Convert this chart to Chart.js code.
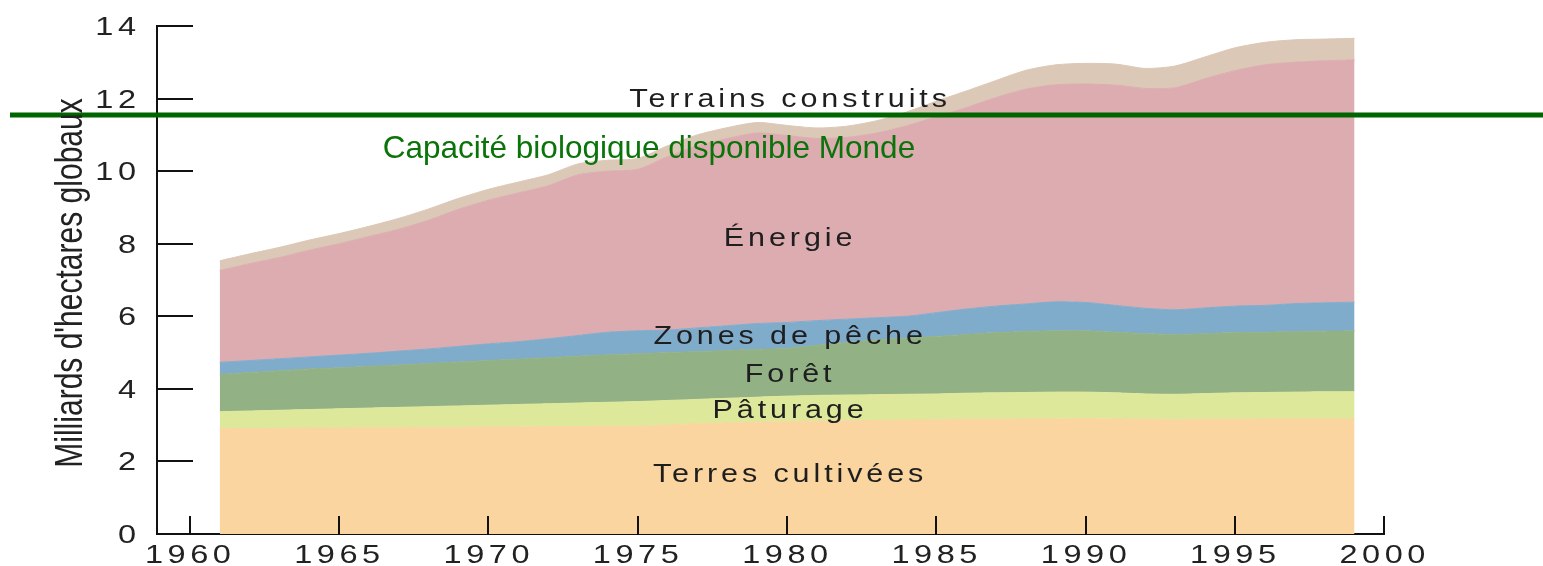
<!DOCTYPE html>
<html>
<head>
<meta charset="utf-8">
<script src="https://cdn.jsdelivr.net/npm/chart.js@4.4.1/dist/chart.umd.min.js"></script>
<style>
html,body{margin:0;padding:0;background:#fff;overflow:hidden}
#wrap{width:1543px;height:566px;position:relative}
</style>
</head>
<body>
<div id="wrap"><canvas id="c" width="1543" height="566"></canvas></div>
<script>
// ---- DATA (milliards d'hectares globaux) ----
const years = [1961,1962,1963,1964,1965,1966,1967,1968,1969,1970,
               1971,1972,1973,1974,1975,1976,1977,1978,1979,1980,
               1981,1982,1983,1984,1985,1986,1987,1988,1989,1990,
               1991,1992,1993,1994,1995,1996,1997,1998,1999];

const terresCultivees = [2.90,2.91,2.91,2.92,2.92,2.93,2.93,2.94,2.94,2.95,
                         2.95,2.96,2.96,2.97,2.97,3.00,3.04,3.06,3.08,3.10,
                         3.11,3.12,3.13,3.14,3.15,3.16,3.16,3.17,3.17,3.18,
                         3.17,3.16,3.15,3.16,3.16,3.17,3.17,3.17,3.17];

const paturage = [0.47,0.48,0.50,0.51,0.53,0.54,0.56,0.57,0.59,0.60,
                  0.62,0.63,0.65,0.66,0.68,0.68,0.67,0.68,0.69,0.70,
                  0.71,0.71,0.71,0.71,0.71,0.72,0.73,0.73,0.74,0.73,
                  0.72,0.70,0.70,0.71,0.73,0.73,0.74,0.75,0.75];

const foret = [1.03,1.06,1.09,1.12,1.13,1.15,1.17,1.19,1.21,1.23,
               1.25,1.27,1.29,1.31,1.32,1.32,1.32,1.32,1.32,1.32,
               1.38,1.45,1.51,1.55,1.59,1.62,1.66,1.68,1.69,1.69,
               1.67,1.66,1.65,1.65,1.66,1.66,1.67,1.67,1.68];

const zonesDePeche = [0.33,0.33,0.33,0.33,0.35,0.36,0.38,0.40,0.43,0.46,
                      0.48,0.52,0.57,0.62,0.63,0.62,0.65,0.68,0.71,0.71,
                      0.68,0.64,0.61,0.60,0.65,0.70,0.73,0.76,0.80,0.78,
                      0.74,0.70,0.68,0.71,0.73,0.74,0.77,0.78,0.79];

const energie = [2.53,2.67,2.79,2.94,3.07,3.22,3.36,3.55,3.78,3.96,
                 4.10,4.22,4.43,4.44,4.45,4.78,5.02,5.16,5.25,5.15,
                 5.02,5.01,5.09,5.25,5.40,5.55,5.75,5.92,5.98,6.02,
                 6.07,6.06,6.12,6.32,6.49,6.63,6.65,6.67,6.68];

const terrainsConstruits = [0.27,0.27,0.28,0.28,0.28,0.28,0.30,0.31,0.30,0.30,
                            0.30,0.30,0.30,0.30,0.30,0.30,0.30,0.30,0.29,0.28,
                            0.29,0.31,0.34,0.38,0.43,0.46,0.47,0.52,0.55,0.57,
                            0.58,0.55,0.60,0.60,0.63,0.62,0.62,0.60,0.59];

const seriesNames = ['Terres cultivées','Pâturage','Forêt','Zones de pêche','Énergie','Terrains construits'];
const seriesValues = [terresCultivees, paturage, foret, zonesDePeche, energie, terrainsConstruits];

const xTickValues = [1960,1965,1970,1975,1980,1985,1990,1995,2000];
const yTickValues = [0,2,4,6,8,10,12,14];

const capaciteBiologique = 11.55;
const capaciteLabel = 'Capacité biologique disponible Monde';
const yAxisTitle = "Milliards d'hectares globaux";

// ---- STYLE ----
const fillColors = ['#FAD5A0','#DEE89B','#92B286','#80ACCC','#DCACB0','#DCC8B6'];
const labelAnchors = [[1980,1.43],[1980,3.21],[1980,4.19],[1980,5.23],[1980,7.94],[1980,11.76]];
const FONT = '"Liberation Sans", Arial, Helvetica, sans-serif';

const datasets = seriesValues.map((vals, i) => ({
  label: seriesNames[i],
  data: years.map((yr, k) => ({x: yr, y: vals[k]})),
  backgroundColor: fillColors[i],
  borderColor: fillColors[i],
  borderWidth: 1,
  pointRadius: 0,
  tension: 0.25,
  fill: i === 0 ? 'origin' : '-1'
}));

// draw horizontally stretched, letter-spaced text
function wideText(ctx, text, x, y, sx, spacing, align) {
  ctx.save();
  ctx.letterSpacing = '0px';
  const n = [...text].length;
  const w = (ctx.measureText(text).width + (n - 1) * spacing) * sx;
  let left = x;
  if (align === 'center') left = x - w / 2;
  else if (align === 'right') left = x - w;
  ctx.letterSpacing = spacing + 'px';
  ctx.translate(left, y);
  ctx.scale(sx, 1);
  ctx.textAlign = 'left';
  ctx.fillText(text, 0, 0);
  ctx.restore();
}

const decor = {
  id: 'decor',
  afterDraw(chart) {
    const {ctx, chartArea: a} = chart;
    const x = chart.scales.x, y = chart.scales.y;
    ctx.save();
    // tick marks (inward)
    ctx.strokeStyle = '#111';
    ctx.lineWidth = 2;
    ctx.beginPath();
    xTickValues.forEach(v => {
      const px = Math.round(x.getPixelForValue(v));
      ctx.moveTo(px, a.bottom); ctx.lineTo(px, a.bottom - 18);
    });
    yTickValues.forEach(v => {
      const py = Math.round(y.getPixelForValue(v));
      ctx.moveTo(a.left, py); ctx.lineTo(a.left + 36, py);
    });
    ctx.stroke();

    // tick labels
    ctx.font = '25px ' + FONT;
    ctx.fillStyle = '#222';
    ctx.textBaseline = 'alphabetic';
    xTickValues.forEach(v => {
      wideText(ctx, String(v), x.getPixelForValue(v) - 2, a.bottom + 29, 1.3, 3.5, 'center');
    });
    yTickValues.forEach(v => {
      wideText(ctx, String(v), a.left - 21, y.getPixelForValue(v) + 9, 1.3, 3.5, 'right');
    });

    // series labels
    ctx.font = '25px ' + FONT;
    ctx.fillStyle = '#1e1e1e';
    seriesNames.forEach((n, i) => {
      const p = labelAnchors[i];
      wideText(ctx, n, x.getPixelForValue(p[0]) + 1, y.getPixelForValue(p[1]), 1.22, 3.2, 'center');
    });

    // capacity line
    const gy = y.getPixelForValue(capaciteBiologique);
    ctx.strokeStyle = '#006400';
    ctx.lineWidth = 5;
    ctx.beginPath();
    ctx.moveTo(10, gy); ctx.lineTo(chart.width, gy);
    ctx.stroke();

    ctx.font = '31.5px ' + FONT;
    ctx.fillStyle = '#0a730a';
    ctx.textAlign = 'left';
    ctx.fillText(capaciteLabel, x.getPixelForValue(1966.46), y.getPixelForValue(10.35));

    // y axis title (condensed)
    ctx.translate(81.5, 283);
    ctx.rotate(-Math.PI / 2);
    ctx.scale(0.79, 1);
    ctx.font = '38px ' + FONT;
    ctx.fillStyle = '#222';
    ctx.textAlign = 'center';
    ctx.fillText(yAxisTitle, 0, 0);
    ctx.restore();
  }
};

new Chart(document.getElementById('c'), {
  type: 'line',
  data: { datasets },
  options: {
    responsive: false,
    animation: false,
    devicePixelRatio: 1,
    layout: { padding: { top: 26, right: 158.6, left: 0, bottom: 0 } },
    plugins: { legend: { display: false }, tooltip: { enabled: false }, title: { display: false } },
    scales: {
      x: {
        type: 'linear',
        min: 1958.9,
        max: 2000,
        z: 1,
        afterBuildTicks: s => { s.ticks = xTickValues.map(v => ({value: v})); },
        afterFit: s => { s.height = 32; },
        grid: { display: false, drawTicks: false },
        border: { display: true, color: '#111', width: 2 },
        ticks: { display: false, callback: v => String(v) }
      },
      y: {
        type: 'linear',
        stacked: true,
        min: 0,
        max: 14,
        z: 1,
        afterBuildTicks: s => { s.ticks = yTickValues.map(v => ({value: v})); },
        afterFit: s => { s.width = 157; },
        grid: { display: false, drawTicks: false },
        border: { display: true, color: '#111', width: 2 },
        ticks: { display: false, callback: v => String(v) }
      }
    }
  },
  plugins: [decor]
});
</script>
</body>
</html>
